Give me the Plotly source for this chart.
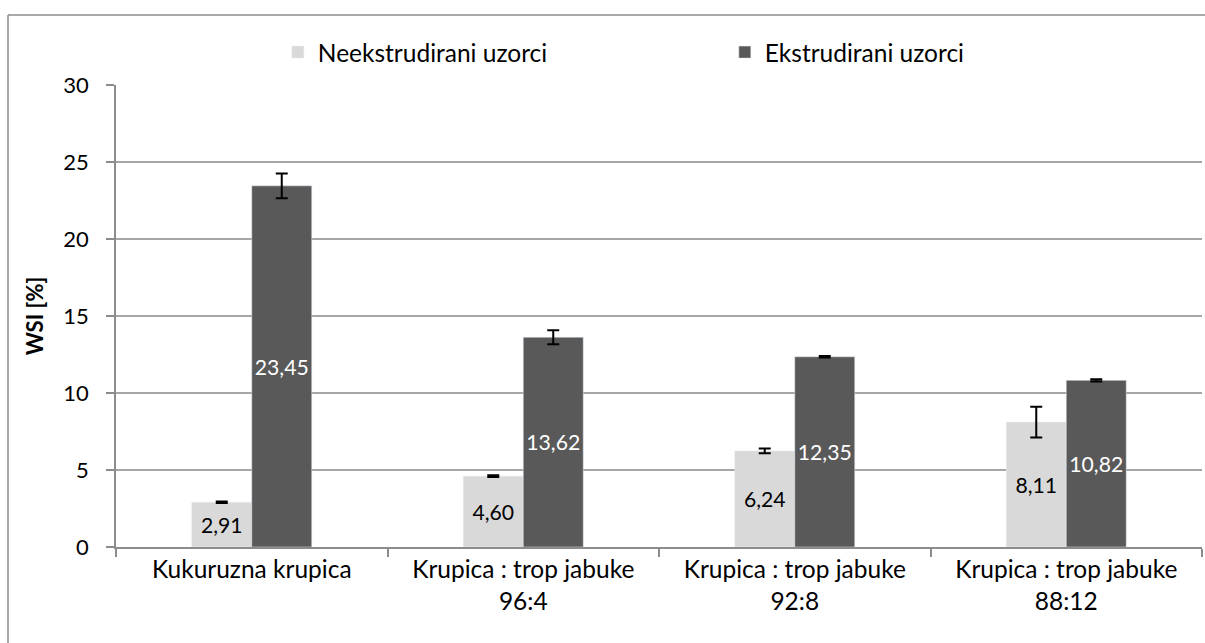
import plotly.graph_objects as go

categories = ["Kukuruzna krupica", "Krupica : trop jabuke<br>96:4",
              "Krupica : trop jabuke<br>92:8", "Krupica : trop jabuke<br>88:12"]
series_names = ["Neekstrudirani uzorci", "Ekstrudirani uzorci"]
neekstrudirani = [2.91, 4.60, 6.24, 8.11]
neekstrudirani_err = [0.05, 0.06, 0.15, 1.0]
ekstrudirani = [23.45, 13.62, 12.35, 10.82]
ekstrudirani_err = [0.8, 0.45, 0.05, 0.07]
label_neek = ["2,91", "4,60", "6,24", "8,11"]
label_ek = ["23,45", "13,62", "12,35", "10,82"]
y_title = "WSI [%]"

FONT = "Lato"
W, H = 1205, 643
L, T, B, R = 116, 85, 96, 3
PW, PH = W - L - R, H - T - B

fig = go.Figure()
fig.add_trace(go.Bar(
    x=categories, y=neekstrudirani, name=series_names[0],
    marker=dict(color="#d9d9d9"),
    error_y=dict(type="data", array=neekstrudirani_err, color="black", thickness=2, width=6),
    text=label_neek, textposition="inside", insidetextanchor="middle",
    textfont=dict(color="black", size=23, family=FONT), textangle=0,
))
fig.add_trace(go.Bar(
    x=categories, y=ekstrudirani, name=series_names[1],
    marker=dict(color="#595959"),
    error_y=dict(type="data", array=ekstrudirani_err, color="black", thickness=2, width=6),
    text=label_ek, textposition="inside", insidetextanchor="middle",
    textfont=dict(color="white", size=23, family=FONT), textangle=0,
))

fig.update_layout(
    width=W, height=H,
    margin=dict(l=L, r=R, t=T, b=B, autoexpand=False),
    paper_bgcolor="white", plot_bgcolor="white",
    font=dict(family=FONT, size=18, color="black"),
    barmode="group", bargap=0.558, bargroupgap=0,
    uniformtext=dict(minsize=19, mode="show"),
    showlegend=True,
    legend=dict(orientation="h", x=0.149, xanchor="left", y=1.071, yanchor="middle",
                font=dict(size=24.5, family=FONT), entrywidth=402, entrywidthmode="pixels",
                bgcolor="rgba(0,0,0,0)"),
    xaxis=dict(showline=True, linecolor="#8c8c8c", linewidth=1.5,
               ticks="outside", tickson="boundaries", ticklen=8, tickcolor="#8c8c8c",
               tickwidth=1.5, tickfont=dict(size=24.5), showgrid=False, automargin=False),
    yaxis=dict(range=[0, 30], dtick=5, showline=True, linecolor="#8c8c8c", linewidth=1.5,
               ticks="outside", ticklen=8, tickcolor="#8c8c8c", tickwidth=1.5,
               showgrid=True, gridcolor="#a6a6a6", gridwidth=1.5, zeroline=False,
               tickfont=dict(size=22), ticklabelstandoff=13, automargin=False,
               title=dict(text="<b>" + y_title + "</b>", font=dict(size=22), standoff=14)),
)

# outer chart border (only the left and top edges are inside the cropped picture)
bx0 = (8 - L) / PW
bx1 = (W + 20 - L) / PW
by_top = (T + PH - 15) / PH
by_bot = (T + PH - (H + 20)) / PH
fig.add_shape(type="line", xref="paper", yref="paper", x0=bx0, x1=bx0, y0=by_bot, y1=by_top,
              line=dict(color="#8c8c8c", width=1.5), layer="below")
fig.add_shape(type="line", xref="paper", yref="paper", x0=bx0, x1=bx1, y0=by_top, y1=by_top,
              line=dict(color="#8c8c8c", width=1.5), layer="below")

fig.write_html("out.html", config={"displayModeBar": False},
               post_script="document.body.style.margin='0px';")
